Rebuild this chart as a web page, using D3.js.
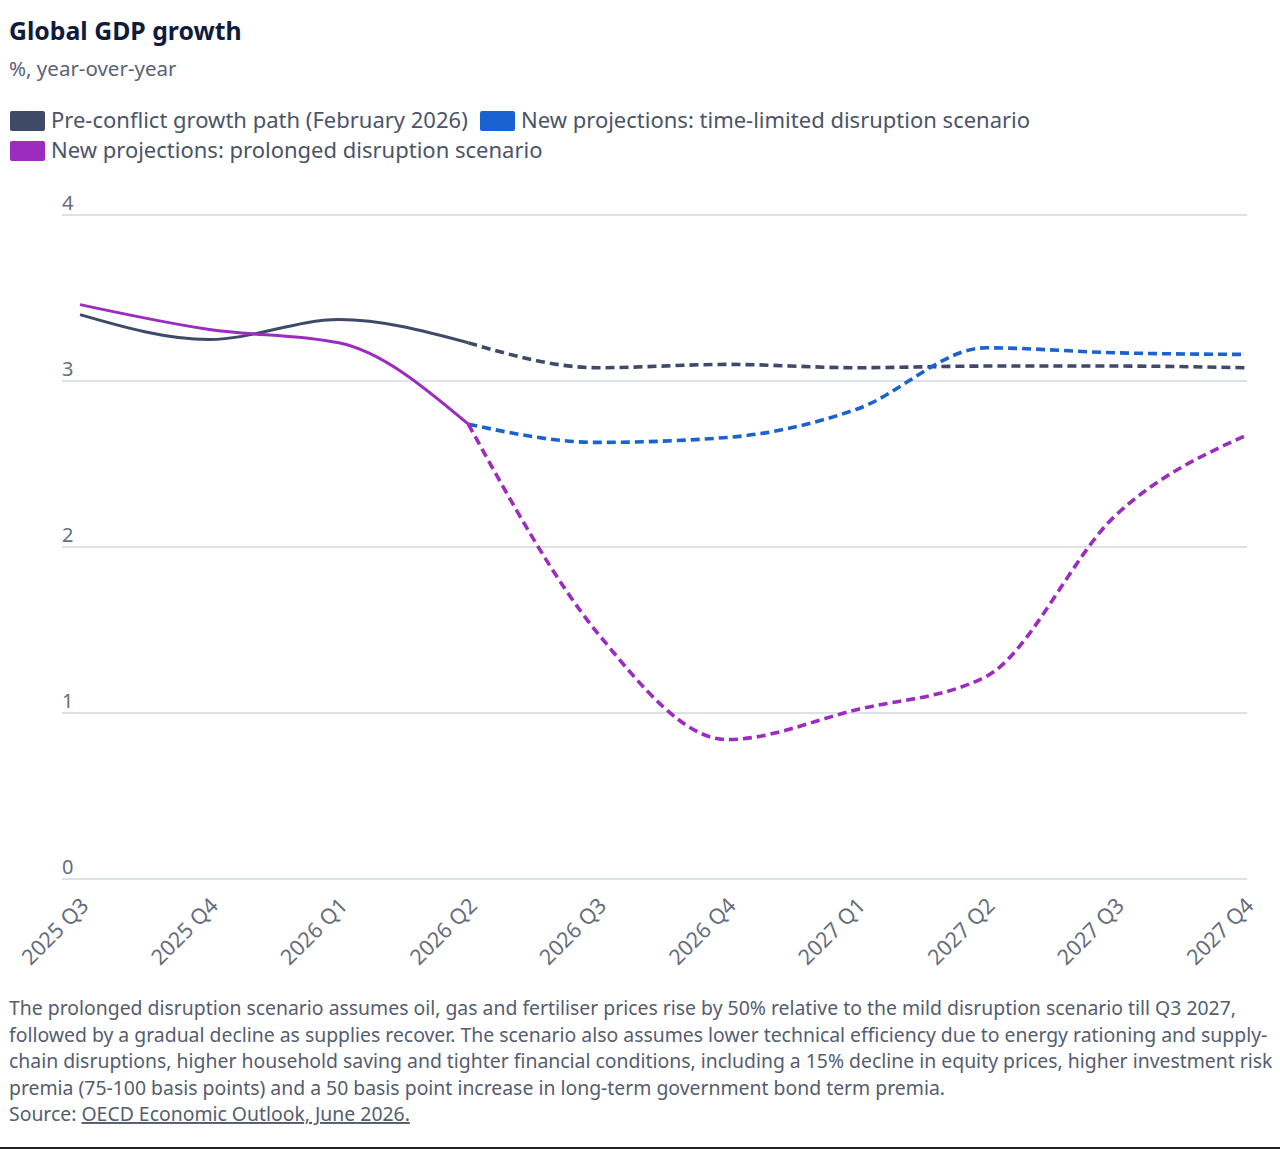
<!DOCTYPE html>
<html>
<head>
<meta charset="utf-8">
<script src="https://cdn.jsdelivr.net/npm/d3@7"></script>
<style>
  body { margin: 0; background: #fff; font-family: "Noto Sans", sans-serif; }
  #chart { width: 1280px; height: 1149px; }
</style>
</head>
<body>
<div id="chart"></div>
<script>
// quarters on the x axis
const quarters = ["2025 Q3", "2025 Q4", "2026 Q1", "2026 Q2", "2026 Q3",
  "2026 Q4", "2027 Q1", "2027 Q2", "2027 Q3", "2027 Q4"];

// values (%, y-o-y); null = no value
const preConflict = [3.40, 3.25, 3.37, 3.23, 3.08, 3.10, 3.08, 3.09, 3.09, 3.08];
const timeLimited = [null, null, null, 2.74, 2.63, 2.66, 2.83, 3.20, 3.17, 3.16];
const prolonged = [3.46, 3.31, 3.23, 2.74, 1.48, 0.84, 1.02, 1.22, 2.19, 2.67];

// index of last actual (solid) quarter
const lastActual = 3;

const yTicks = [0, 1, 2, 3, 4];

const series = [
  { name: "Pre-conflict growth path (February 2026)", color: "#3f4a68", values: preConflict },
  { name: "New projections: time-limited disruption scenario", color: "#1a62d2", values: timeLimited },
  { name: "New projections: prolonged disruption scenario", color: "#9b2cbf", values: prolonged },
];

const notes = [
  "The prolonged disruption scenario assumes oil, gas and fertiliser prices rise by 50% relative to the mild disruption scenario till Q3 2027,",
  "followed by a gradual decline as supplies recover. The scenario also assumes lower technical efficiency due to energy rationing and supply-",
  "chain disruptions, higher household saving and tighter financial conditions, including a 15% decline in equity prices, higher investment risk",
  "premia (75-100 basis points) and a 50 basis point increase in long-term government bond term premia.",
];

const width = 1280, height = 1149;
const svg = d3.select("#chart").append("svg").attr("width", width).attr("height", height);

// title + subtitle
svg.append("text").attr("x", 9).attr("y", 40)
  .attr("font-size", 24.8).attr("font-weight", 700).attr("fill", "#0f1b3d")
  .text("Global GDP growth");
svg.append("text").attr("x", 9).attr("y", 76)
  .attr("font-size", 20.5).attr("fill", "#5a6274")
  .text("%, year-over-year");

// legend
const legendPos = [[10, 111], [480, 111], [10, 141]];
series.forEach((s, i) => {
  const [lx, ly] = legendPos[i];
  svg.append("rect").attr("x", lx).attr("y", ly).attr("width", 35).attr("height", 20)
    .attr("rx", 2).attr("fill", s.color);
  svg.append("text").attr("x", lx + 41).attr("y", ly + 17)
    .attr("font-size", 22).attr("fill", "#4b5468").text(s.name);
});

// plot area
const x = d3.scalePoint().domain(quarters).range([80, 1245]);
const y = d3.scaleLinear().domain([0, 4]).range([879, 215]);
const gridX0 = 62, gridX1 = 1247;

const grid = svg.append("g");
grid.selectAll("line").data(yTicks).join("line")
  .attr("x1", gridX0).attr("x2", gridX1)
  .attr("y1", (d) => y(d)).attr("y2", (d) => y(d))
  .attr("stroke", "#d3d8e1").attr("stroke-width", 1.5);
grid.selectAll("text").data(yTicks).join("text")
  .attr("x", gridX0).attr("y", (d) => y(d) - 5)
  .attr("font-size", 20).attr("fill", "#666d7c")
  .text((d) => d);

// x labels, rotated
svg.append("g").selectAll("text").data(quarters).join("text")
  .attr("transform", (d) => `translate(${x(d) + 10},${y(0) + 28}) rotate(-45)`)
  .attr("text-anchor", "end")
  .attr("font-size", 21.5).attr("fill", "#666d7c")
  .text((d) => d);

// lines: solid up to lastActual, dashed afterwards
const line = d3.line()
  .defined((d) => d.v != null)
  .x((d) => x(d.q))
  .y((d) => y(d.v))
  .curve(d3.curveMonotoneX);

const lines = svg.append("g").attr("fill", "none");
// draw order: pre-conflict, time-limited, prolonged
[0, 1, 2].forEach((si) => {
  const s = series[si];
  const pts = quarters.map((q, i) => ({ q, v: s.values[i], i }));
  const solid = pts.filter((d) => d.i <= lastActual && d.v != null);
  const dashed = pts.filter((d) => d.i >= lastActual && d.v != null);
  if (solid.length > 1) {
    lines.append("path").attr("d", line(solid)).attr("stroke", s.color).attr("stroke-width", 3);
  }
  lines.append("path").attr("d", line(dashed)).attr("stroke", s.color)
    .attr("stroke-width", 3.6).attr("stroke-dasharray", "9,5");
});

// footnote
const foot = svg.append("g").attr("font-size", 19.4).attr("fill", "#555d6f");
notes.forEach((t, i) => {
  foot.append("text").attr("x", 9).attr("y", 1015 + i * 26.5).text(t);
});
const src = foot.append("text").attr("x", 9).attr("y", 1015 + 4 * 26.5);
src.append("tspan").text("Source: ");
src.append("tspan").attr("text-decoration", "underline").text("OECD Economic Outlook, June 2026.");

// bottom frame line
svg.append("line").attr("x1", 0).attr("x2", width).attr("y1", 1148).attr("y2", 1148)
  .attr("stroke", "#222").attr("stroke-width", 2);
</script>
</body>
</html>
